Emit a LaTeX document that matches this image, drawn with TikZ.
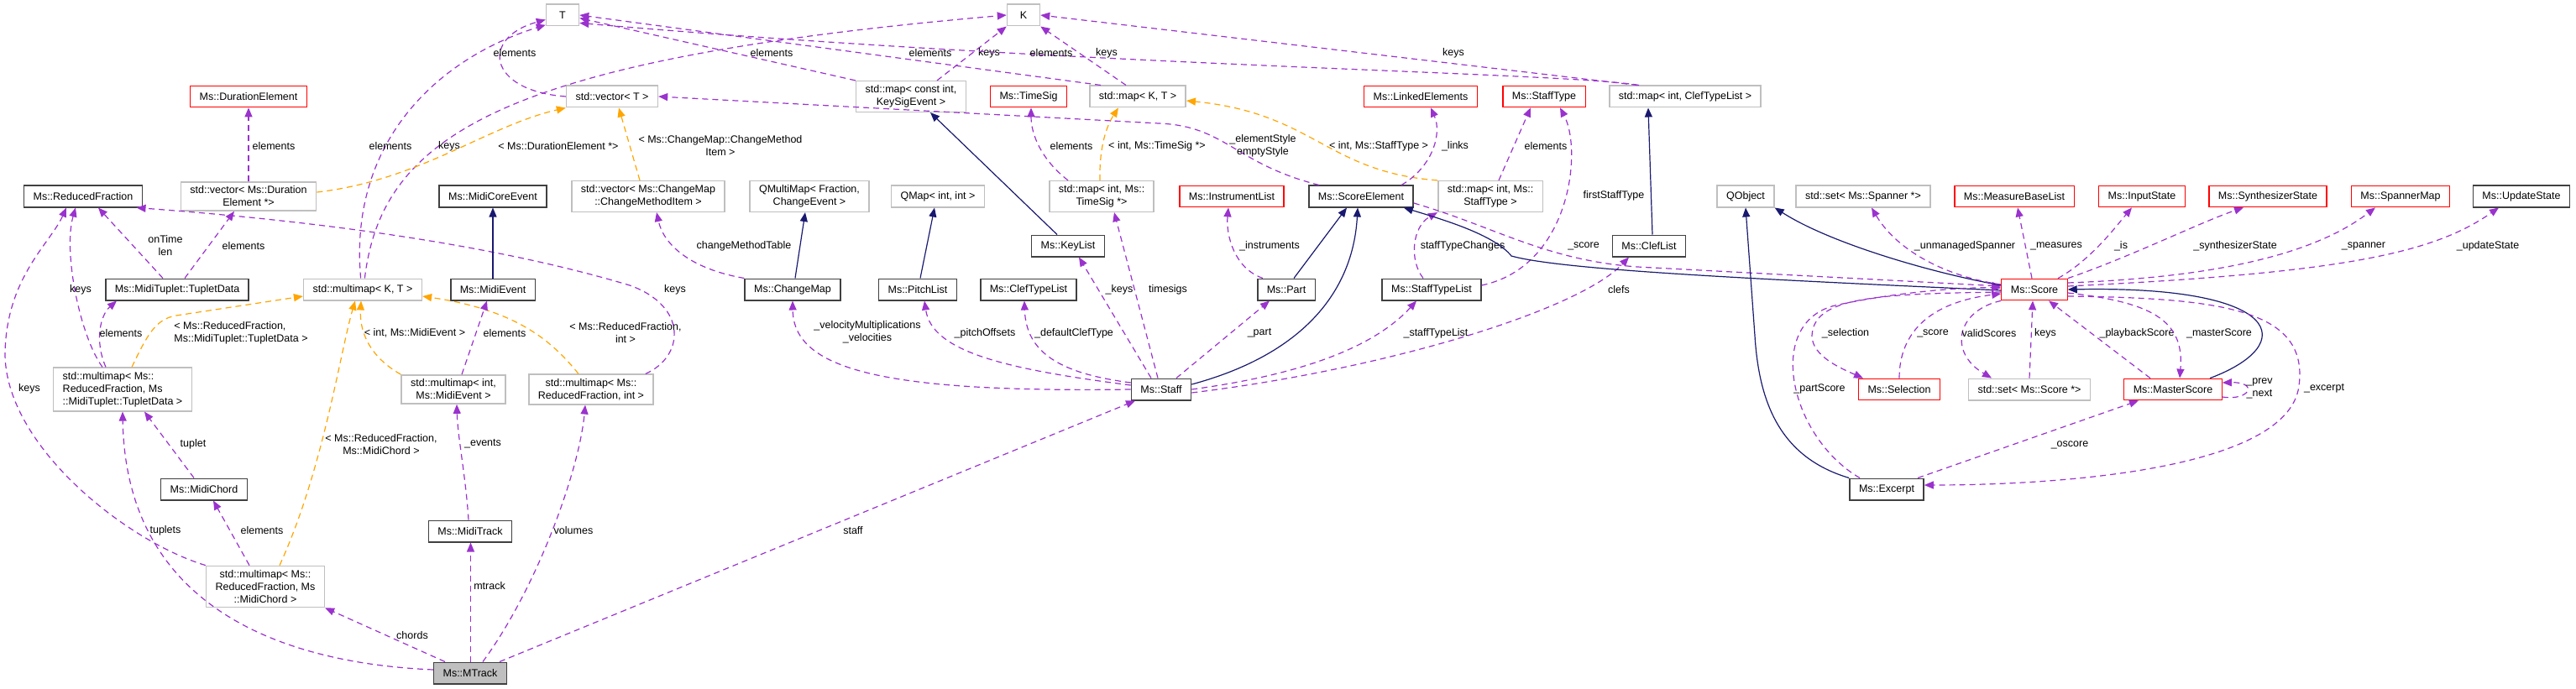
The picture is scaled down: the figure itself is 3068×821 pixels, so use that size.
\documentclass[tikz,border=0pt]{standalone}
\usepackage{fontspec}
\setmainfont{Liberation Sans}
\usepackage{xcolor}
\usetikzlibrary{arrows.meta}

\definecolor{usecol}{RGB}{154,50,205}
\definecolor{tplcol}{RGB}{255,165,0}
\definecolor{inhcol}{RGB}{25,25,112}
\definecolor{boxred}{RGB}{255,0,0}
\definecolor{boxgray}{RGB}{191,191,191}
\definecolor{boxdark}{RGB}{64,64,64}

\tikzset{
  txt/.style={font=\fontsize{12.5}{15}\selectfont, align=center},
  cls/.style={txt, draw=boxdark, line width=1.5pt, fill=white, inner xsep=11pt, inner ysep=5pt, minimum height=25.5pt, minimum width=39pt},
  redcls/.style={cls, draw=boxred, line width=1.2pt},
  tplcls/.style={cls, draw=boxgray},
  maincls/.style={cls, fill=boxgray},
  use/.style={usecol, line width=1.2pt, dash pattern=on 7pt off 5pt, -{Triangle[length=11pt,width=9pt]}},
  tpl/.style={use, tplcol},
  inh/.style={inhcol, line width=1.2pt, -{Triangle[length=11pt,width=9pt]}},
  lbl/.style={txt, black, inner sep=0pt},
}

\begin{document}
\begin{tikzpicture}[x=1pt, y=-1pt, >=Latex]
  \useasboundingbox (0,0) rectangle (3068,821);

  \node[tplcls] (T) at (670,18) {T};
  \node[tplcls] (K) at (1219,18) {K};
  \node[redcls] (DurEl) at (296,115) {Ms::DurationElement};
  \node[tplcls] (vecT) at (729,115) {std::vector< T >};
  \node[tplcls] (mapKSE) at (1085,115) {std::map< const int,\\KeySigEvent >};
  \node[redcls] (TimeSig) at (1225,115) {Ms::TimeSig};
  \node[tplcls] (mapKT) at (1355,115) {std::map< K, T >};
  \node[redcls] (LinkEl) at (1692,115) {Ms::LinkedElements};
  \node[redcls] (StaffType) at (1839,115) {Ms::StaffType};
  \node[tplcls] (mapCTL) at (2007,115) {std::map< int, ClefTypeList >};

  \node[cls] (RedFrac) at (99,234) {Ms::ReducedFraction};
  \node[tplcls] (vecDE) at (296,234) {std::vector< Ms::Duration\\Element *>};
  \node[cls] (MidiCore) at (587,234) {Ms::MidiCoreEvent};
  \node[tplcls] (vecCMI) at (772,234) {std::vector< Ms::ChangeMap\\::ChangeMethodItem >};
  \node[tplcls] (QMM) at (964,234) {QMultiMap< Fraction,\\ChangeEvent >};
  \node[tplcls] (QMap) at (1117,234) {QMap< int, int >};
  \node[tplcls] (mapTS) at (1312,234) {std::map< int, Ms::\\TimeSig *>};
  \node[redcls] (InstrList) at (1467,234) {Ms::InstrumentList};
  \node[cls] (ScoreEl) at (1621,234) {Ms::ScoreElement};
  \node[tplcls] (mapST) at (1775,234) {std::map< int, Ms::\\StaffType >};
  \node[tplcls] (QObj) at (2079,234) {QObject};
  \node[tplcls] (setSp) at (2219,234) {std::set< Ms::Spanner *>};
  \node[redcls] (MeasList) at (2399,234) {Ms::MeasureBaseList};
  \node[redcls] (InState) at (2551,234) {Ms::InputState};
  \node[redcls] (SynthSt) at (2701,234) {Ms::SynthesizerState};
  \node[redcls] (SpanMap) at (2859,234) {Ms::SpannerMap};
  \node[cls] (UpdSt) at (3003,234) {Ms::UpdateState};

  \node[cls] (KeyList) at (1272,293) {Ms::KeyList};
  \node[cls] (ClefList) at (1964,293) {Ms::ClefList};

  \node[cls] (Tuplet) at (211,345) {Ms::MidiTuplet::TupletData};
  \node[tplcls] (mmKT) at (432,345) {std::multimap< K, T >};
  \node[cls] (MidiEv) at (587,345) {Ms::MidiEvent};
  \node[cls] (ChMap) at (944,345) {Ms::ChangeMap};
  \node[cls] (Pitch) at (1093,345) {Ms::PitchList};
  \node[cls] (ClefTL) at (1225,345) {Ms::ClefTypeList};
  \node[cls] (Part) at (1532,345) {Ms::Part};
  \node[cls] (STL) at (1705,345) {Ms::StaffTypeList};
  \node[redcls] (Score) at (2423,345) {Ms::Score};

  \node[tplcls, align=left] (mmTup) at (146,464) {std::multimap< Ms::\\ReducedFraction, Ms\\::MidiTuplet::TupletData >};
  \node[tplcls] (mmEv) at (540,464) {std::multimap< int,\\Ms::MidiEvent >};
  \node[tplcls] (mmVol) at (704,464) {std::multimap< Ms::\\ReducedFraction, int >};
  \node[cls] (Staff) at (1383,464) {Ms::Staff};
  \node[redcls] (Sel) at (2262,464) {Ms::Selection};
  \node[tplcls] (setSc) at (2417,464) {std::set< Ms::Score *>};
  \node[redcls] (Master) at (2588,464) {Ms::MasterScore};

  \node[cls] (Chord) at (243,583) {Ms::MidiChord};
  \node[cls] (Excerpt) at (2247,583) {Ms::Excerpt};
  \node[cls] (MidiTr) at (560,633) {Ms::MidiTrack};
  \node[tplcls] (mmCh) at (316,699) {std::multimap< Ms::\\ReducedFraction, Ms\\::MidiChord >};
  \node[maincls] (MTrack) at (560,802) {Ms::MTrack};

  \draw[use] (mmKT.100) node[lbl,at={(465,174)}] (l1) {elements} .. controls (415,170) and (520,70) .. (T.210);
  \draw[use] (mmKT.80) node[lbl,at={(535,174)}] (l2) {keys} .. controls (455,160) and (600,70) .. (K.west);
  \draw[use] (vecT.west) node[lbl,at={(613,63)}] (l3) {elements} .. controls (580,108) and (572,45) .. (T.195);
  \draw[use] (mapKSE.north west) node[lbl,at={(919,63)}] (l4) {elements} -- (T.-10);
  \draw[use] ([xshift=31]mapKSE.north) node[lbl,at={(1178,63)}] (l5) {keys} -- (K.south west);
  \draw[use] ([xshift=14]mapKT.north west) node[lbl,at={(1108,63)}] (l6) {elements} -- (T.east);
  \draw[use] ([xshift=-14]mapKT.north) node[lbl,at={(1318,63)}] (l7) {keys} -- (K.south east);
  \draw[use] ([xshift=36]mapCTL.north west) node[lbl,at={(1252,63)}] (l8) {elements} .. controls (1860,86) and (1300,80) .. (T.-25);
  \draw[use] ([xshift=34]mapCTL.north west) node[lbl,at={(1731,63)}] (l9) {keys} -- (K.east);

  \draw[use] (vecDE) node[lbl,at={(326,174)}] (l10) {elements} -- (DurEl);
  \draw[use] ([xshift=9]Tuplet.north) node[lbl,at={(290,293)}] (l11) {elements} -- ([xshift=-17]vecDE.south);
  \draw[use] ([xshift=-17]Tuplet.north) node[lbl,at={(197,293)}] (l12) {onTime\\len} -- ([xshift=18]RedFrac.south);
  \draw[use] ([xshift=-24]mmTup.north) node[lbl,at={(96,345)}] (l13) {keys} .. controls (95,400) and (75,300) .. ([xshift=-9]RedFrac.south);
  \draw[use] ([xshift=-20]mmTup.north) node[lbl,at={(144,397)}] (l14) {elements} .. controls (112,405) and (120,375) .. ([xshift=-72]Tuplet.south);
  \draw[tpl] ([xshift=11]mmTup.north) node[lbl,align=left,at={(287,397)}] (l15) {< Ms::ReducedFraction,\\Ms::MidiTuplet::TupletData >} .. controls (175,400) and (185,380) .. (210,376) -- ([yshift=-8]mmKT.west);
  \draw[tpl] ([xshift=17]mmCh.north) node[lbl,at={(454,530)}] (l16) {< Ms::ReducedFraction,\\Ms::MidiChord >} .. controls (385,560) and (405,420) .. ([xshift=-9]mmKT.south);
  \draw[tpl] (mmEv.north west) node[lbl,at={(494,397)}] (l17) {< int, Ms::MidiEvent >} .. controls (440,425) and (428,395) .. ([xshift=-2]mmKT.south);
  \draw[tpl] ([xshift=-15]mmVol.north) node[lbl,at={(745,397)}] (l18) {< Ms::ReducedFraction,\\int >} .. controls (660,410) and (620,370) .. ([yshift=-8]mmKT.east);
  \draw[use] ([xshift=-10]mmVol.north east) node[lbl,at={(804,345)}] (l19) {keys} .. controls (815,425) and (820,365) .. (750,340) .. controls (600,295) and (400,265) .. (RedFrac.-12);
  \draw[use] ([xshift=10]mmEv.north) node[lbl,at={(601,397)}] (l20) {elements} -- ([xshift=-7]MidiEv.south);
  \draw[inh] (MidiEv) -- (MidiCore);
  \draw[use] ([xshift=-2]MidiTr.north) node[lbl,at={(575,529)}] (l22) {\_events} .. controls (555,570) and (545,520) .. ([xshift=4]mmEv.south);
  \draw[use] ([xshift=-12]Chord.north) node[lbl,at={(230,529)}] (l23) {tuplet} -- ([xshift=26]mmTup.south);
  \draw[use] ([xshift=-19]mmCh.north) node[lbl,at={(312,632)}] (l24) {elements} -- ([xshift=11]Chord.south);
  \draw[use] (mmCh.north west) node[lbl,at={(35,463)}] (l25) {keys} .. controls (150,645) and (5,530) .. (6,420) .. controls (8,330) and (60,290) .. ([xshift=-20]RedFrac.south);

  \draw[use] ([yshift=4]MTrack.west) node[lbl,at={(197,632)}] (l26) {tuplets} .. controls (330,790) and (150,720) .. (mmTup.south);
  \draw[use] ([xshift=-30]MTrack.north) node[lbl,at={(491,757)}] (l27) {chords} -- (mmCh.south east);
  \draw[use] ([xshift=0.5]MTrack.north) node[lbl,at={(583,698)}] (l28) {mtrack} -- ([xshift=0.5]MidiTr.south);
  \draw[use] ([xshift=15]MTrack.north) node[lbl,at={(683,632)}] (l29) {volumes} .. controls (640,700) and (690,560) .. ([xshift=-7]mmVol.south);
  \draw[use] ([xshift=35]MTrack.north) node[lbl,at={(1016,632)}] (l30) {staff} -- ([xshift=-31]Staff.south);

  \draw[use] (Staff.west) node[lbl,at={(1033,396)}] (l31) {\_velocityMultiplications\\\_velocities} .. controls (1050,468) and (945,440) .. (ChMap.south);
  \draw[use] ([yshift=5]Staff.west) node[lbl,at={(1173,397)}] (l32) {\_pitchOffsets} .. controls (1200,440) and (1110,420) .. ([xshift=8]Pitch.south);
  \draw[use] ([yshift=8]Staff.west) node[lbl,at={(1279,397)}] (l33) {\_defaultClefType} .. controls (1262,445) and (1222,420) .. ([xshift=-5]ClefTL.south);
  \draw[use] ([xshift=-12]Staff.north) node[lbl,at={(1333,345)}] (l34) {\_keys} -- ([xshift=13]KeyList.south);
  \draw[use] ([xshift=-4]Staff.north) node[lbl,at={(1391,345)}] (l35) {timesigs} -- ([xshift=15]mapTS.south);
  \draw[use] ([xshift=18]Staff.north) node[lbl,at={(1500,397)}] (l36) {\_part} -- ([xshift=-20]Part.south);
  \draw[inh] ([yshift=6]Staff.east) .. controls (1560,420) and (1612,340) .. ([xshift=-4]ScoreEl.south);
  \draw[inh] ([xshift=9]Part.north) -- ([xshift=-17]ScoreEl.south);
  \draw[use] (Staff.east) node[lbl,at={(1710,397)}] (l39) {\_staffTypeList} .. controls (1560,445) and (1640,410) .. ([xshift=-18]STL.south);
  \draw[use] ([yshift=-4]Staff.east) node[lbl,at={(1928,345)}] (l40) {clefs} .. controls (1650,440) and (1880,370) .. ([xshift=-24]ClefList.south);
  \draw[use] ([xshift=-10]STL.north) node[lbl,at={(1742,293)}] (l41) {staffTypeChanges} .. controls (1678,310) and (1682,270) .. (mapST.south west);
  \draw[use] ([yshift=5]STL.east) node[lbl,at={(1922,233)}] (l42) {firstStaffType} .. controls (1870,318) and (1885,180) .. ([xshift=19]StaffType.south);
  \draw[use] ([xshift=10]mapST.north) node[lbl,at={(1841,174)}] (l43) {elements} -- ([xshift=-16]StaffType.south);
  \draw[tpl] (mapST.north west) node[lbl,at={(1642,174)}] (l44) {< int, Ms::StaffType >} .. controls (1580,205) and (1565,135) .. ([yshift=-5]mapKT.east);
  \draw[tpl] ([xshift=-2]mapTS.north) node[lbl,at={(1378,174)}] (l45) {< int, Ms::TimeSig *>} .. controls (1309,175) and (1318,150) .. ([xshift=-23]mapKT.south);
  \draw[use] ([xshift=-40]mapTS.north) node[lbl,at={(1276,174)}] (l46) {elements} .. controls (1240,190) and (1228,160) .. ([xshift=3]TimeSig.south);
  \draw[inh] ([xshift=-13]KeyList.north) -- ([xshift=23]mapKSE.south);
  \draw[inh] ([xshift=3]ChMap.north) -- ([xshift=-5]QMM.south);
  \draw[inh] ([xshift=3]Pitch.north) -- ([xshift=-4]QMap.south);
  \draw[use] (ChMap.north west) node[lbl,at={(886,293)}] (l50) {changeMethodTable} .. controls (820,320) and (790,290) .. ([xshift=10]vecCMI.south);
  \draw[tpl] ([xshift=-10]vecCMI.north) node[lbl,at={(858,174)}] (l51) {< Ms::ChangeMap::ChangeMethod\\Item >} -- ([xshift=8]vecT.south);
  \draw[tpl] ([yshift=5]vecDE.east) node[lbl,at={(665,174)}] (l52) {< Ms::DurationElement *>} .. controls (500,215) and (580,150) .. (vecT.south west);
  \draw[use] ([xshift=-50]ScoreEl.north) node[lbl,at={(1504,174)}] (l53) {\_elementStyle\\emptyStyle} .. controls (1470,195) and (1460,150) .. (1380,147) -- (vecT.east);
  \draw[use] ([xshift=48]ScoreEl.north) node[lbl,at={(1733,174)}] (l54) {\_links} .. controls (1705,200) and (1718,160) .. ([xshift=12]LinkEl.south);
  \draw[use] ([yshift=-8]ScoreEl.east) node[lbl,at={(1886,293)}] (l55) {\_score} .. controls (1780,270) and (1840,310) .. (1950,318) -- ([yshift=4]Score.west);
  \draw[inh] ([yshift=-1]Score.west) .. controls (2100,333) and (1860,322) .. (1800,305) .. controls (1780,280) and (1720,262) .. ([xshift=-12]ScoreEl.south east);
  \draw[inh] ([yshift=5]Score.west) .. controls (2300,325) and (2180,290) .. (QObj.south east);
  \draw[inh] (Excerpt.north west) .. controls (2120,545) and (2095,480) .. (2090,400) -- (QObj.south);
  \draw[inh] ([xshift=44]Master.north) .. controls (2740,410) and (2720,340) .. (Score.east);
  \draw[use] ([xshift=-28]Part.north) node[lbl,at={(1512,293)}] (l76) {\_instruments} .. controls (1470,320) and (1460,280) .. ([xshift=-4]InstrList.south);
  \draw[inh] ([xshift=4]ClefList.north) -- ([xshift=-44]mapCTL.south);

  \draw[use] ([yshift=-3]Score.west) node[lbl,at={(2198,397)}] (l60) {\_selection} .. controls (2230,350) and (2160,355) .. (2158,400) .. controls (2158,425) and (2195,440) .. ([xshift=-43]Sel.north);
  \draw[use] (Sel.north) node[lbl,at={(2302,397)}] (l61) {\_score} .. controls (2262,395) and (2300,360) .. ([yshift=-5]Score.west);
  \draw[use] (Score.south west) node[lbl,at={(2369,397)}] (l62) {validScores} .. controls (2330,370) and (2320,420) .. ([xshift=-45]setSc.north);
  \draw[use] (setSc.north) node[lbl,at={(2436,397)}] (l63) {keys} -- ([xshift=-2]Score.south);
  \draw[use] ([xshift=-27]Master.north) node[lbl,at={(2545,397)}] (l64) {\_playbackScore} -- ([xshift=17]Score.south);
  \draw[use] ([yshift=-4]Score.east) node[lbl,at={(2643,397)}] (l65) {\_masterScore} .. controls (2560,360) and (2602,380) .. ([xshift=8]Master.north);
  \draw[use] ([yshift=-8]Score.east) node[lbl,at={(2768,463)}] (l66) {\_excerpt} .. controls (2650,355) and (2750,370) .. (2738,460) .. controls (2725,560) and (2450,578) .. ([yshift=5]Excerpt.east);
  \draw[use] ([xshift=37]Excerpt.north) node[lbl,at={(2465,530)}] (l67) {\_oscore} -- ([xshift=-41]Master.south);
  \draw[use] ([xshift=-32]Excerpt.north) node[lbl,at={(2167,463)}] (l68) {\_partScore} .. controls (2130,520) and (2100,380) .. (2190,363) .. controls (2250,350) and (2330,342) .. ([yshift=2]Score.west);
  \draw[use] ([yshift=-9]Master.east) node[lbl,at={(2691,463)}] (l69) {\_prev\\\_next} .. controls (2680,478) and (2690,455) .. ([yshift=8]Master.east);
  \draw[use] ([yshift=6]Score.west) node[lbl,at={(2340,293)}] (l70) {\_unmanagedSpanner} .. controls (2320,330) and (2260,300) .. ([xshift=10]setSp.south);
  \draw[use] ([xshift=-3]Score.north) node[lbl,at={(2449,293)}] (l71) {\_measures} -- ([xshift=4]MeasList.south);
  \draw[use] ([xshift=28]Score.north) node[lbl,at={(2526,293)}] (l72) {\_is} .. controls (2490,310) and (2520,270) .. ([xshift=-12]InState.south);
  \draw[use] (Score.north east) node[lbl,at={(2662,293)}] (l73) {\_synthesizerState} .. controls (2540,305) and (2620,265) .. ([xshift=-29]SynthSt.south);
  \draw[use] ([yshift=8]Score.east) node[lbl,at={(2815,293)}] (l74) {\_spanner} .. controls (2650,330) and (2760,300) .. ([xshift=-30]SpanMap.south);
  \draw[use] ([yshift=4]Score.east) node[lbl,at={(2963,293)}] (l75) {\_updateState} .. controls (2800,325) and (2900,300) .. ([xshift=-27]UpdSt.south);
\end{tikzpicture}
\end{document}
